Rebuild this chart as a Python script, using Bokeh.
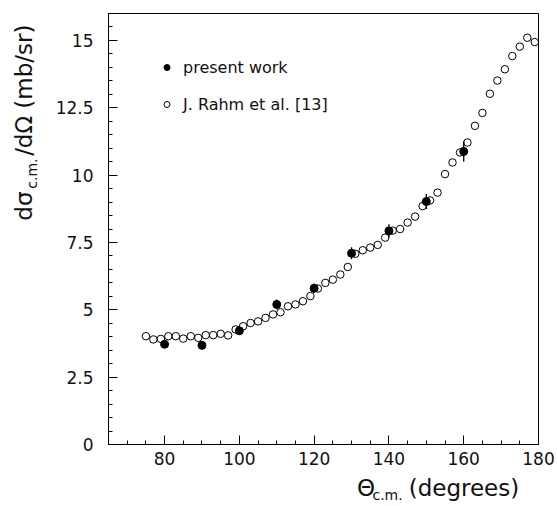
import numpy as np
from bokeh.plotting import figure
from bokeh.layouts import row, column
from bokeh.models import Range1d, Label, Legend, SingleIntervalTicker
from bokeh.embed import file_html
from bokeh.resources import INLINE

# --- data ---
rahm_theta = [75, 77, 79, 81, 83, 85, 87, 89, 91, 93, 95, 97, 99, 101, 103, 105,
              107, 109, 111, 113, 115, 117, 119, 121, 123, 125, 127, 129, 131, 133,
              135, 137, 139, 141, 143, 145, 147, 149, 151, 153, 155, 157, 159, 161,
              163, 165, 167, 169, 171, 173, 175, 177, 179]
rahm_xs = [4.02, 3.90, 3.92, 4.02, 4.02, 3.93, 4.02, 3.96, 4.06, 4.06, 4.11, 4.05,
           4.27, 4.39, 4.51, 4.57, 4.70, 4.83, 4.91, 5.13, 5.20, 5.32, 5.51, 5.79,
           6.00, 6.12, 6.31, 6.59, 7.08, 7.21, 7.31, 7.41, 7.68, 7.94, 8.00, 8.24,
           8.46, 8.85, 9.06, 9.35, 10.04, 10.47, 10.84, 11.21, 11.83, 12.31, 13.02,
           13.51, 13.93, 14.42, 14.77, 15.10, 14.94]

present_theta = [80, 90, 100, 110, 120, 130, 140, 150, 160]
present_xs = [3.72, 3.68, 4.22, 5.20, 5.80, 7.10, 7.93, 9.02, 10.88]
present_err = [0.10, 0.10, 0.12, 0.18, 0.18, 0.22, 0.25, 0.28, 0.38]

x_tick_values = [80, 100, 120, 140, 160, 180]
y_tick_values = [0, 2.5, 5, 7.5, 10, 12.5, 15]
y_tick_labels = ["0", "2.5", "5", "7.5", "10", "12.5", "15"]

FONT = "DejaVu Sans"
W, H = 558, 506
LEFT_W = 45        # width of the strip holding the y title
BOTTOM_H = 30      # height of the strip holding the x title
FRAME_LEFT = 108
FRAME_BOTTOM = 444
MAIN_W = W - LEFT_W
MAIN_H = H - BOTTOM_H

p = figure(width=MAIN_W, height=MAIN_H, x_range=Range1d(65, 180), y_range=Range1d(0, 16),
           output_backend="svg", toolbar_location=None,
           min_border_left=FRAME_LEFT - LEFT_W, min_border_right=20, min_border_top=13,
           min_border_bottom=MAIN_H - FRAME_BOTTOM)
p.background_fill_color = "white"
p.border_fill_color = "white"
p.outline_line_color = "black"
p.outline_line_width = 1
p.xgrid.visible = False
p.ygrid.visible = False

p.xaxis.ticker = SingleIntervalTicker(interval=20, num_minor_ticks=4)
p.yaxis.ticker = SingleIntervalTicker(interval=2.5, num_minor_ticks=5)
p.yaxis.major_label_overrides = {v: s for v, s in zip(y_tick_values, y_tick_labels)}
p.xaxis.major_label_overrides = {v: str(v) for v in x_tick_values}

for ax in (p.xaxis[0], p.yaxis[0]):
    ax.axis_line_color = "black"
    ax.major_tick_line_color = "black"
    ax.minor_tick_line_color = "black"
    ax.major_tick_in = 9
    ax.major_tick_out = 0
    ax.minor_tick_in = 4
    ax.minor_tick_out = 0
    ax.major_label_text_font = FONT
    ax.major_label_text_font_size = "17px"
    ax.major_label_text_color = "#111111"
p.xaxis.major_label_standoff = 7
p.yaxis.major_label_standoff = 15

lo = [y - e for y, e in zip(present_xs, present_err)]
hi = [y + e for y, e in zip(present_xs, present_err)]
p.segment(x0=present_theta, y0=lo, x1=present_theta, y1=hi,
          line_color="black", line_width=1.3)
r_open = p.scatter(rahm_theta, rahm_xs, marker="circle", size=7.5,
                   fill_color=None, line_color="black", line_width=1)
r_fill = p.scatter(present_theta, present_xs, marker="circle", size=8,
                   fill_color="black", line_color="black")

legend = Legend(items=[("present work", [r_fill]), ("J. Rahm et al. [13]", [r_open])],
                location=(51, 330), orientation="vertical",
                label_text_font=FONT, label_text_font_size="16px",
                label_text_color="#111111",
                glyph_width=15, glyph_height=20, label_height=20,
                label_standoff=9, spacing=17, padding=0, margin=0,
                border_line_alpha=0, background_fill_alpha=0)
p.add_layout(legend)


def strip(width, height, x0, y0):
    f = figure(width=width, height=height, x_range=Range1d(x0, x0 + width),
               y_range=Range1d(y0, y0 + height), output_backend="svg",
               toolbar_location=None, x_axis_type=None, y_axis_type=None,
               min_border=0, min_border_left=0, min_border_right=0,
               min_border_top=0, min_border_bottom=0)
    f.outline_line_color = None
    f.background_fill_color = "white"
    f.border_fill_color = "white"
    f.xgrid.visible = False
    f.ygrid.visible = False
    return f


left_strip = strip(LEFT_W, H, 0, 0)
bottom_strip = strip(MAIN_W, BOTTOM_H, LEFT_W, 0)

title_size = "23px"
sub_size = "14px"


def lab(fig, px, py, text, size, align, angle=0.0):
    # px, py: canvas pixel position (from top-left of the whole page)
    fig.add_layout(Label(x=px, y=H - py, text=text, angle=angle, text_font=FONT,
                         text_font_size=size, text_align=align,
                         text_baseline="middle", text_color="#111111"))


# x title: right-aligned pieces
lab(bottom_strip, 535, 487, "(degrees)", title_size, "right")
lab(bottom_strip, 396, 494, "c.m.", sub_size, "right")
lab(bottom_strip, 363, 487, "Θ", title_size, "right")
# y title (rotated, reading upward), top end near the frame top
ang = np.pi / 2
lab(left_strip, 23, 24, "/dΩ (mb/sr)", title_size, "right", ang)
lab(left_strip, 31, 158, "c.m.", sub_size, "right", ang)
lab(left_strip, 23, 191, "dσ", title_size, "right", ang)

layout = row(left_strip, column(p, bottom_strip, spacing=0), spacing=0)
open("out.html", "w").write(file_html(layout, INLINE))
